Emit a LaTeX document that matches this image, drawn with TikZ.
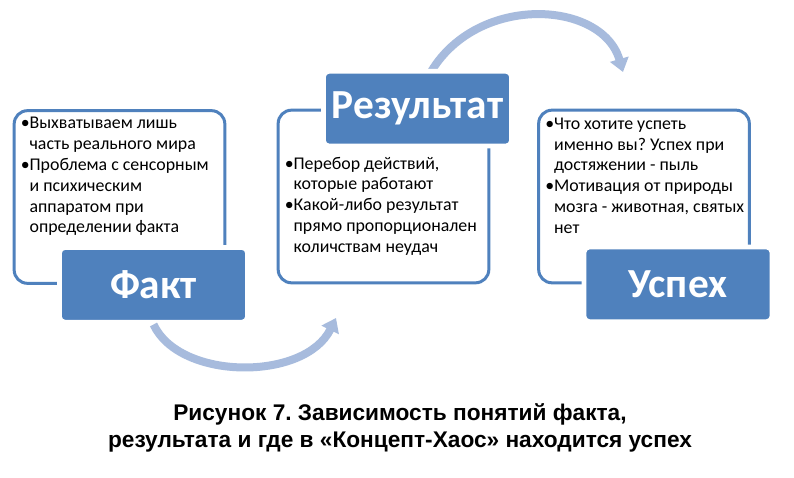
\documentclass[tikz,border=0pt]{standalone}
\usepackage{fontspec}
\setmainfont{Carlito}
\newfontfamily\capfont{Liberation Sans}
\usetikzlibrary{arrows.meta,positioning}
\definecolor{accent}{RGB}{79,129,189}
\definecolor{flow}{RGB}{167,187,221}
\frenchspacing
\newcommand\bul{\makebox[6.5pt][l]{\textbullet}}
\newcommand\ind{\hspace*{6.5pt}}
\tikzset{
  infobox/.style={draw=accent, line width=2.25pt, rounded corners=10pt, fill=white,
    minimum width=158pt, minimum height=129.5pt},
  head/.style={fill=accent, draw=white, line width=3.5pt, rounded corners=4pt,
    minimum width=141pt, minimum height=56pt, text=white,
    font=\bfseries\fontsize{31}{33}\selectfont},
  bullets/.style={anchor=north west, inner sep=0pt, align=left,
    font=\fontsize{13.4}{15.6}\selectfont},
  flowarrow/.style={draw=flow, line width=6pt, -{Triangle[length=10pt,width=14pt]}},
  caption/.style={align=center, font=\capfont\bfseries\fontsize{17}{20.3}\selectfont}
}
\begin{document}
\begin{tikzpicture}[x=0.75pt, y=-0.75pt]
    \path[use as bounding box, fill=white] (0,0) rectangle (794,478);
    % boxes with text
    \node[infobox] (faktBox) at (119.5,197) {};
    \node[infobox] (rezBox) at (383.5,196.5) {};
    \node[infobox] (uspBox) at (644,196.5) {};
    % arrows
    \coordinate (b2) at (336,318);
    \coordinate (t2) at (623,72);
    \node[head] (faktHead) at ([xshift=25.5pt]faktBox.south) {Факт};
    \draw[flowarrow] (faktHead.south) .. controls (180,381) and (305,381) .. (b2);
    \node[head] (uspHead) at ([xshift=25.5pt]uspBox.south) {Успех};
    \draw[flowarrow] ([yshift=-2pt]rezBox.north -| 416,0) .. controls (440,-8) and (600,-8) .. (t2);
    \node[head] (rezHead) at ([xshift=25.5pt]rezBox.north) {Результат};
    % texts
    \node[bullets] (faktTxt) at ([shift={(8,8)}]faktBox.north west)
      {\bul Выхватываем лишь\\\ind часть реального мира\\
       \bul Проблема с сенсорным\\\ind и психическим\\\ind аппаратом при\\\ind определении факта};
    \node[bullets] (rezTxt) at ([shift={(8,48)}]rezBox.north west)
      {\bul Перебор действий,\\\ind которые работают\\
       \bul Какой-либо результат\\\ind прямо пропорционален\\\ind количствам неудач};
    \node[bullets] (uspTxt) at ([shift={(8,9)}]uspBox.north west)
      {\bul Что хотите успеть\\\ind именно вы? Успех при\\\ind достяжении - пыль\\
       \bul Мотивация от природы\\\ind мозга - животная, святых\\\ind нет};
    % caption
    \node[caption] (cap) at (400,428)
      {Рисунок 7. Зависимость понятий факта,\\
       результата и где в «Концепт-Хаос» находится успех};
\end{tikzpicture}
\end{document}
